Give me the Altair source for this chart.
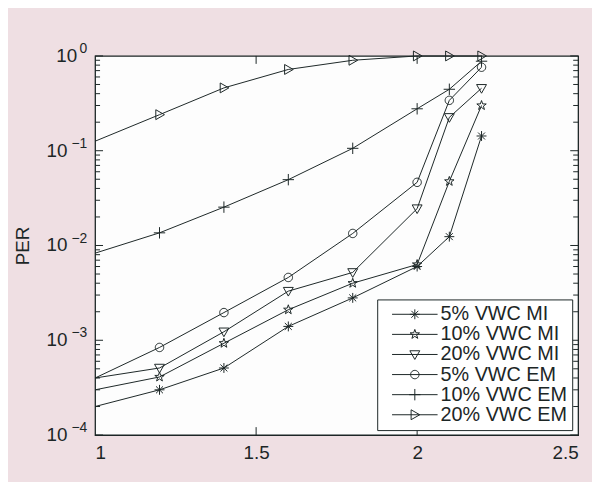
import altair as alt
import pandas as pd
import numpy as np

# ---------------- data ----------------
x_vals = [1.0, 1.2, 1.4, 1.6, 1.8, 2.0, 2.1, 2.2]
series_names = ["5% VWC MI", "10% VWC MI", "20% VWC MI",
                "5% VWC EM", "10% VWC EM", "20% VWC EM"]
per_5_mi = [0.0002, 0.0003, 0.00051, 0.0014, 0.0028, 0.0060, 0.0124, 0.143]
per_10_mi = [0.0003, 0.00041, 0.00093, 0.0021, 0.0040, 0.0063, 0.0475, 0.30]
per_20_mi = [0.0004, 0.00051, 0.00123, 0.0033, 0.0052, 0.0245, 0.225, 0.456]
per_5_em = [0.0004, 0.00084, 0.00196, 0.0046, 0.0134, 0.0464, 0.34, 0.76]
per_10_em = [0.0083, 0.0136, 0.0254, 0.0495, 0.106, 0.277, 0.445, 0.88]
per_20_em = [0.126, 0.24, 0.46, 0.72, 0.90, 1.0, 1.0, 1.0]

x_ticks = [1, 1.5, 2, 2.5]
x_inner_ticks = [1.5, 2]
y_decades = [1, 0.1, 0.01, 0.001, 0.0001]
y_exponents = ["0", "\u22121", "\u22122", "\u22123", "\u22124"]

all_series = [per_5_mi, per_10_mi, per_20_mi, per_5_em, per_10_em, per_20_em]
rows = []
for name, vals in zip(series_names, all_series):
    for xv, yv in zip(x_vals, vals):
        rows.append({"x": xv, "y": yv, "series": name, "lg": name})
df = pd.DataFrame(rows)

minor_vals = [m * 10.0 ** e for e in range(-4, 0) for m in range(2, 10)]
df_major = pd.DataFrame({"v": y_decades})
df_minor = pd.DataFrame({"v": minor_vals})
df_ylab = pd.DataFrame({"v": y_decades, "base": ["10"] * 5, "exp": y_exponents})
df_xin = pd.DataFrame({"x": x_inner_ticks})

# ---------------- marker shapes ----------------
def star_pts(r1=1.0, r2=0.4):
    pts = []
    for i in range(10):
        a = -np.pi / 2 + i * np.pi / 5
        r = r1 if i % 2 == 0 else r2
        pts.append((r * np.cos(a), r * np.sin(a)))
    return pts

def circle_pts(r=0.85, n=28):
    return [(r * np.cos(2 * np.pi * i / n), r * np.sin(2 * np.pi * i / n)) for i in range(n)]

markers = [
    # asterisk
    [([(-1, 0), (1, 0)], False), ([(0, -1), (0, 1)], False),
     ([(-0.7, -0.7), (0.7, 0.7)], False), ([(-0.7, 0.7), (0.7, -0.7)], False)],
    # pentagram
    [(star_pts(), True)],
    # triangle down
    [([(-1, -0.75), (1, -0.75), (0, 1)], True)],
    # circle
    [(circle_pts(), True)],
    # plus
    [([(-1.15, 0), (1.15, 0)], False), ([(0, -1.15), (0, 1.15)], False)],
    # triangle right
    [([(-0.75, -1), (1, 0), (-0.75, 1)], True)],
]

def to_path(parts, s=1.0):
    out = ""
    for pts, closed in parts:
        out += "M" + "L".join(f"{px * s:.3f},{py * s:.3f}" for px, py in pts)
        if closed:
            out += "Z"
    return out

marker_paths = [to_path(m) for m in markers]
legend_paths = ["M-4.6,0L4.6,0" + to_path(m) for m in markers]

ink = "#1c2626"
font = "Liberation Sans"

x_scale = alt.Scale(domain=[1, 2.5], nice=False, zero=False)
y_scale = alt.Scale(type="log", domain=[1e-4, 1], nice=False)

x_enc = alt.X("x:Q", scale=x_scale,
              axis=alt.Axis(values=x_ticks, format="~g", ticks=False, domain=False,
                            grid=False, labelFontSize=19, labelFont=font,
                            labelColor=ink, labelPadding=9, title=None))
y_enc = alt.Y("y:Q", scale=y_scale,
              axis=alt.Axis(labels=False, ticks=False, domain=False, grid=False,
                            title="PER", titleFontSize=19, titleFont=font,
                            titleFontWeight="normal", titleColor=ink,
                            titlePadding=63))

lines = alt.Chart(df).mark_line(color=ink, strokeWidth=1).encode(
    x=x_enc, y=y_enc, detail="series:N", order="x:Q")

points = alt.Chart(df).transform_filter("datum.x > 1").mark_point(
    filled=False, color=ink, size=100, strokeWidth=1, opacity=1).encode(
    x="x:Q", y="y:Q",
    shape=alt.Shape("series:N", scale=alt.Scale(domain=series_names, range=marker_paths),
                    legend=None))

legend_layer = alt.Chart(df).mark_point(filled=False, color=ink, opacity=0).encode(
    x="x:Q", y="y:Q",
    shape=alt.Shape("lg:N", scale=alt.Scale(domain=series_names, range=legend_paths),
                    legend=alt.Legend(title=None, orient="none", legendX=285, legendY=246,
                                      symbolSize=100, symbolStrokeWidth=1,
                                      symbolStrokeColor=ink, symbolFillColor="transparent",
                                      symbolOpacity=1, symbolOffset=23,
                                      labelFontSize=20, labelFont=font,
                                      labelColor=ink, labelOffset=16, rowPadding=0.3,
                                      padding=5, strokeColor=ink, fillColor="white",
                                      cornerRadius=0)))

tick_left_major = alt.Chart(df_major).mark_rule(color=ink, strokeWidth=1, x2Offset=8).encode(
    y=alt.Y("v:Q"), x=alt.datum(1), x2=alt.datum(1))
tick_left_minor = alt.Chart(df_minor).mark_rule(color=ink, strokeWidth=1, x2Offset=5).encode(
    y=alt.Y("v:Q"), x=alt.datum(1), x2=alt.datum(1))
tick_right_major = alt.Chart(df_major).mark_rule(color=ink, strokeWidth=1, x2Offset=-8).encode(
    y=alt.Y("v:Q"), x=alt.datum(2.5), x2=alt.datum(2.5))
tick_right_minor = alt.Chart(df_minor).mark_rule(color=ink, strokeWidth=1, x2Offset=-5).encode(
    y=alt.Y("v:Q"), x=alt.datum(2.5), x2=alt.datum(2.5))
tick_bottom = alt.Chart(df_xin).mark_rule(color=ink, strokeWidth=1, y2Offset=-8).encode(
    x=alt.X("x:Q"), y=alt.datum(1e-4), y2=alt.datum(1e-4))
tick_top = alt.Chart(df_xin).mark_rule(color=ink, strokeWidth=1, y2Offset=8).encode(
    x=alt.X("x:Q"), y=alt.datum(1), y2=alt.datum(1))

ylab_exp = alt.Chart(df_ylab).mark_text(
    align="right", baseline="middle", dx=-8, dy=-7, fontSize=14, font=font, color=ink).encode(
    x=alt.datum(1), y=alt.Y("v:Q"), text="exp:N")
ylab_base0 = alt.Chart(df_ylab).transform_filter("datum.v == 1").mark_text(
    align="right", baseline="middle", dx=-18, dy=0, fontSize=19, font=font, color=ink).encode(
    x=alt.datum(1), y=alt.Y("v:Q"), text="base:N")
ylab_baseneg = alt.Chart(df_ylab).transform_filter("datum.v < 1").mark_text(
    align="right", baseline="middle", dx=-28, dy=0, fontSize=19, font=font, color=ink).encode(
    x=alt.datum(1), y=alt.Y("v:Q"), text="base:N")

chart = alt.layer(
    lines, points, legend_layer,
    tick_left_major, tick_left_minor, tick_right_major, tick_right_minor,
    tick_bottom, tick_top, ylab_exp, ylab_base0, ylab_baseneg,
).resolve_scale(shape="independent").properties(
    width=488, height=383,
    autosize=alt.AutoSizeParams(type="none"),
    padding={"left": 88, "top": 46, "right": 14, "bottom": 45},
    background="#efdfe3",
).configure_view(
    stroke=ink, strokeWidth=1.3, fill="#fdfdfd"
)

chart.save("out.html", embed_options={"renderer": "svg", "actions": False})
